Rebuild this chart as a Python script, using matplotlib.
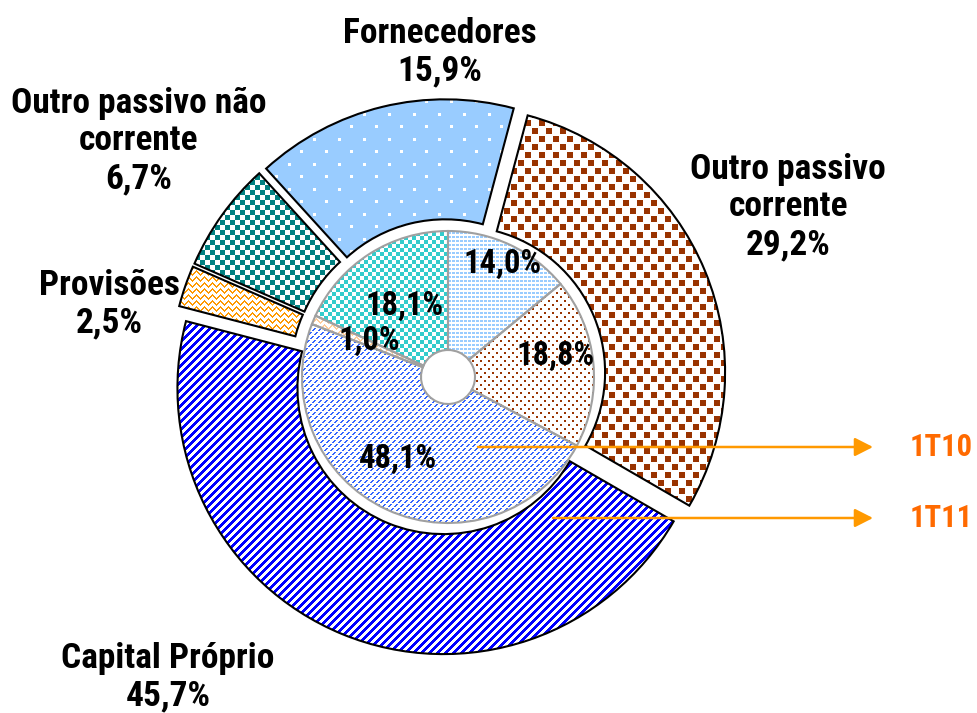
import numpy as np
from matplotlib import pyplot as plt
from matplotlib import font_manager
from matplotlib.colors import to_rgb

# data (% of total liabilities + equity)
categories = ['Fornecedores', 'Outro passivo corrente', 'Capital Próprio',
              'Provisões', 'Outro passivo não corrente']
outer_names = ['Fornecedores', 'Outro passivo\ncorrente', 'Capital Próprio',
               'Provisões', 'Outro passivo não\ncorrente']
values_1t11 = [15.9, 29.2, 45.7, 2.5, 6.7]   # outer ring
values_1t10 = [14.0, 18.8, 48.1, 1.0, 18.1]  # inner ring
ring_names = ['1T10', '1T11']

# layout, in output pixels (y up)
W, H = 977, 713
CENTER = (448, H - 377)
R_HOLE = 27
R_MID = 146
R_OUT = 266
EXPLODE = 12
outer_label_pos = [(440, 52), (788, 207), (168, 677), (109, 304), (139, 141)]
inner_label_pos = [(503, 264), (556, 356), (398, 459), (369, 341), (405, 306)]
arrow_y = [447, 518]
arrow_start = [478, 553]
arrow_tip = 873
ring_label_x = 910


def pick_font():
    # the original uses a narrow bold face; take one if it is installed
    fonts = font_manager.fontManager.ttflist
    for name in ['Liberation Sans Narrow', 'Arial Narrow', 'Roboto Condensed',
                 'Open Sans Condensed']:
        if any(f.name == name for f in fonts):
            return name, 'normal'
    for name in ['Roboto', 'Open Sans', 'DejaVu Sans']:
        if any(f.name == name and f.stretch == 'condensed' for f in fonts):
            return name, 'condensed'
    return 'Liberation Sans', 'normal'


FONT, STRETCH = pick_font()
plt.rcParams['font.family'] = [FONT, 'DejaVu Sans']

# pixel textures that mimic the excel fill patterns
rr, xx = np.mgrid[0:H, 0:W]


def texture(mask, fg, bg='white'):
    img = np.empty((H, W, 3), dtype=np.uint8)
    img[:] = (np.array(to_rgb(bg)) * 255).astype(np.uint8)
    img[mask] = (np.array(to_rgb(fg)) * 255).astype(np.uint8)
    return img


def confetti():
    band = rr // 8
    return ((xx - 7 * band) % 14 < 6) & (rr % 8 < 6)


def zigzag():
    z = np.abs(xx % 8 - 4)
    return (rr - z) % 6 < 2


sparse_dots = (((xx % 25 < 3) & (rr % 25 < 3))
               | (((xx + 12) % 25 < 3) & ((rr + 12) % 25 < 3)))
fine_grid = (xx % 4 < 3) & (rr % 4 < 2)
small_dots = (((xx % 8 < 2) & (rr % 8 < 2))
              | (((xx + 4) % 8 < 2) & ((rr + 4) % 8 < 2)))

outer_fills = [
    texture(sparse_dots, 'white', '#99CCFF'),
    texture(confetti(), '#993300'),
    texture((xx + rr) % 8 < 4, '#0000FF'),
    texture(zigzag(), '#FF9900'),
    texture((xx // 5 + rr // 5) % 2 == 0, '#008080'),
]
inner_fills = [
    texture(fine_grid, '#99CCFF'),
    texture(small_dots, '#993300'),
    texture(((xx + rr) % 6 < 2) & (rr % 4 != 3), '#3366FF'),
    texture(zigzag(), '#FFCC99'),
    texture((xx // 4 + rr // 4) % 2 == 0, '#33CCCC'),
]

fig = plt.figure(figsize=(W / 100, H / 100), dpi=100)
ax = fig.add_axes([0, 0, 1, 1])
renderer = fig.canvas.get_renderer()


def fit_size(text, width_px):
    # font size that gives the text the width it has in the original
    t = fig.text(0, 0, text, fontsize=20, fontweight='bold', fontstretch=STRETCH)
    w = t.get_window_extent(renderer=renderer).width
    t.remove()
    return 20 * width_px / w


BIG = fit_size('Fornecedores', 193)
SMALL = fit_size('14,0%', 78)
RING = fit_size('1T10', 63)

outer, _ = ax.pie(values_1t11, radius=R_OUT, center=CENTER, startangle=132.3,
                  counterclock=False, explode=[EXPLODE] * len(values_1t11),
                  wedgeprops=dict(width=R_OUT - R_MID, facecolor='none',
                                  edgecolor='black', linewidth=1.5))
inner, _ = ax.pie(values_1t10, radius=R_MID, center=CENTER, startangle=90,
                  counterclock=False,
                  wedgeprops=dict(width=R_MID - R_HOLE, facecolor='none',
                                  edgecolor='#A0A0A0', linewidth=1.5))

for wedges, fills in [(outer, outer_fills), (inner, inner_fills)]:
    for wedge, img in zip(wedges, fills):
        im = ax.imshow(img, extent=(0, W, 0, H), origin='upper',
                       interpolation='nearest', zorder=0.5)
        im.set_clip_path(wedge)
        wedge.set_zorder(2)

for name, value, (x, y) in zip(outer_names, values_1t11, outer_label_pos):
    ax.text(x, H - y, f'{name}\n{value:.1f}%'.replace('.', ','),
            ha='center', va='center', fontsize=BIG, fontweight='bold',
            fontstretch=STRETCH, linespacing=1.18)

for value, (x, y) in zip(values_1t10, inner_label_pos):
    ax.text(x, H - y, f'{value:.1f}%'.replace('.', ','),
            ha='center', va='center', fontsize=SMALL, fontweight='bold',
            fontstretch=STRETCH, zorder=3)

for ring, y, x0 in zip(ring_names, arrow_y, arrow_start):
    ax.annotate('', xy=(arrow_tip, H - y), xytext=(x0, H - y),
                arrowprops=dict(arrowstyle='-|>,head_length=0.55,head_width=0.28',
                                mutation_scale=20, color='#FF9900', lw=1.8,
                                shrinkA=0, shrinkB=0), zorder=4)
    ax.text(ring_label_x, H - y, ring, ha='left', va='center', fontsize=RING,
            fontweight='bold', fontstretch=STRETCH, color='#FF6A00')

ax.set_xlim(0, W)
ax.set_ylim(0, H)
ax.set_aspect('equal')
ax.axis('off')

plt.savefig('out.png', dpi=100, facecolor='white')
